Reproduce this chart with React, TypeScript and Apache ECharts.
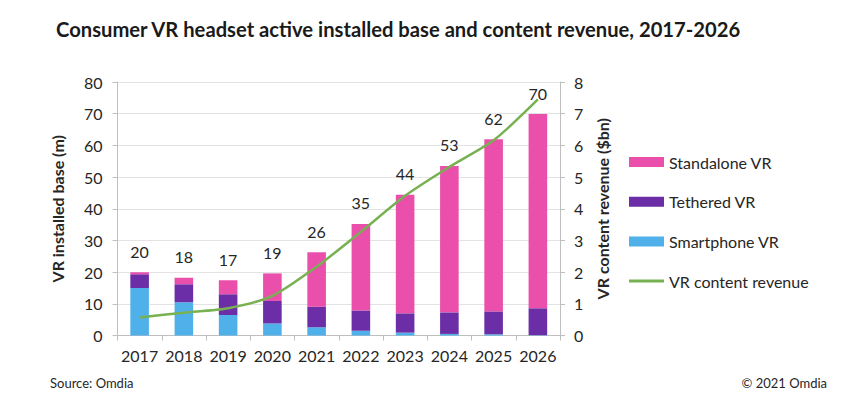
import React, { useEffect, useRef } from "react";
import * as echarts from "echarts";

const years = ["2017", "2018", "2019", "2020", "2021", "2022", "2023", "2024", "2025", "2026"];
const smartphone = [15.0, 10.5, 6.5, 3.8, 2.6, 1.5, 0.9, 0.5, 0.4, 0.1];
const tethered = [4.3, 5.7, 6.5, 7.1, 6.5, 6.4, 6.1, 6.8, 7.2, 8.5];
const standalone = [0.7, 2.0, 4.4, 8.7, 17.2, 27.3, 37.4, 46.2, 54.3, 61.3];
const totals = [20, 18, 17, 19, 26, 35, 44, 53, 62, 70];
const revenue = [0.57, 0.72, 0.86, 1.25, 2.17, 3.27, 4.41, 5.32, 6.16, 7.45];

const FONT = "Lato";
const TXT = "#262626";

export default function App() {
  const ref = useRef<HTMLDivElement>(null);
  useEffect(() => {
    const chart = echarts.init(ref.current!, undefined, { renderer: "svg" });
    chart.setOption({
      animation: false,
      textStyle: { fontFamily: FONT },
      title: {
        text: "Consumer VR headset active installed base and content revenue, 2017-2026",
        left: 51,
        top: 14,
        textStyle: { fontFamily: FONT, fontWeight: "bold", fontSize: 20.2, color: "#1a1a1a" },
      },
      grid: { left: 117.5, right: 297, top: 82, bottom: 63.5, containLabel: false },
      legend: {
        orient: "vertical",
        left: 624,
        top: 147,
        itemWidth: 35,
        itemHeight: 10,
        itemGap: 19.7,
        textStyle: { fontFamily: FONT, fontSize: 16, color: TXT, lineHeight: 20 },
        data: [
          { name: "Standalone VR", icon: "rect" },
          { name: "Tethered VR", icon: "rect" },
          { name: "Smartphone VR", icon: "rect" },
          { name: "VR content revenue", icon: "path://M0,0 H35 V3 H0 Z" },
        ],
      },
      xAxis: {
        type: "category",
        data: years,
        axisLine: { lineStyle: { color: "#BFBFBF", width: 1 } },
        axisTick: { show: true, length: 5, lineStyle: { color: "#BFBFBF" } },
        axisLabel: { fontFamily: FONT, fontSize: 16, color: TXT, margin: 12, interval: 0 },
      },
      yAxis: [
        {
          type: "value",
          min: 0,
          max: 80,
          interval: 10,
          name: "VR installed base (m)",
          nameLocation: "middle",
          nameGap: 52,
          nameRotate: 90,
          nameTextStyle: { fontFamily: FONT, fontWeight: "bold", fontSize: 16, color: TXT },
          axisLine: { show: true, lineStyle: { color: "#BFBFBF" } },
          axisTick: { show: true, length: 5, lineStyle: { color: "#BFBFBF" } },
          axisLabel: { fontFamily: FONT, fontSize: 16, color: TXT, margin: 15 },
          splitLine: { show: true, lineStyle: { color: "#E3E3E3", width: 1 } },
        },
        {
          type: "value",
          min: 0,
          max: 8,
          interval: 1,
          position: "right",
          name: "VR content revenue ($bn)",
          nameLocation: "middle",
          nameGap: 34,
          nameRotate: 90,
          nameTextStyle: { fontFamily: FONT, fontWeight: "bold", fontSize: 16, color: TXT },
          axisLine: { show: true, lineStyle: { color: "#BFBFBF" } },
          axisTick: { show: true, length: 5, lineStyle: { color: "#BFBFBF" } },
          axisLabel: { fontFamily: FONT, fontSize: 16, color: TXT, margin: 14 },
          splitLine: { show: false },
        },
      ],
      series: [
        {
          name: "Smartphone VR",
          type: "bar",
          stack: "base",
          barWidth: "42%",
          data: smartphone,
          itemStyle: { color: "#4FB0EA" },
        },
        {
          name: "Tethered VR",
          type: "bar",
          stack: "base",
          barWidth: "42%",
          data: tethered,
          itemStyle: { color: "#6B2EA6" },
        },
        {
          name: "Standalone VR",
          type: "bar",
          stack: "base",
          barWidth: "42%",
          data: standalone,
          itemStyle: { color: "#EA4FAC" },
          label: {
            show: true,
            position: "top",
            distance: 13,
            fontFamily: FONT,
            fontSize: 16,
            color: TXT,
            formatter: (p: any) => String(totals[p.dataIndex]),
          },
        },
        {
          name: "VR content revenue",
          type: "line",
          yAxisIndex: 1,
          data: revenue,
          smooth: 0.25,
          symbol: "none",
          lineStyle: { color: "#77B152", width: 2.5 },
          itemStyle: { color: "#77B152" },
          z: 5,
        },
      ],
      graphic: [
        {
          type: "text",
          left: 50,
          top: 376,
          style: { text: "Source: Omdia", fontFamily: FONT, fontSize: 13, fill: TXT },
        },
        {
          type: "text",
          right: 30,
          top: 376,
          style: { text: "© 2021 Omdia", fontFamily: FONT, fontSize: 13, fill: TXT },
        },
      ],
    });
    return () => chart.dispose();
  }, []);
  return (
    <div
      ref={ref}
      style={{ position: "fixed", left: 0, top: 0, width: 857, height: 399, background: "#fff" }}
    />
  );
}
